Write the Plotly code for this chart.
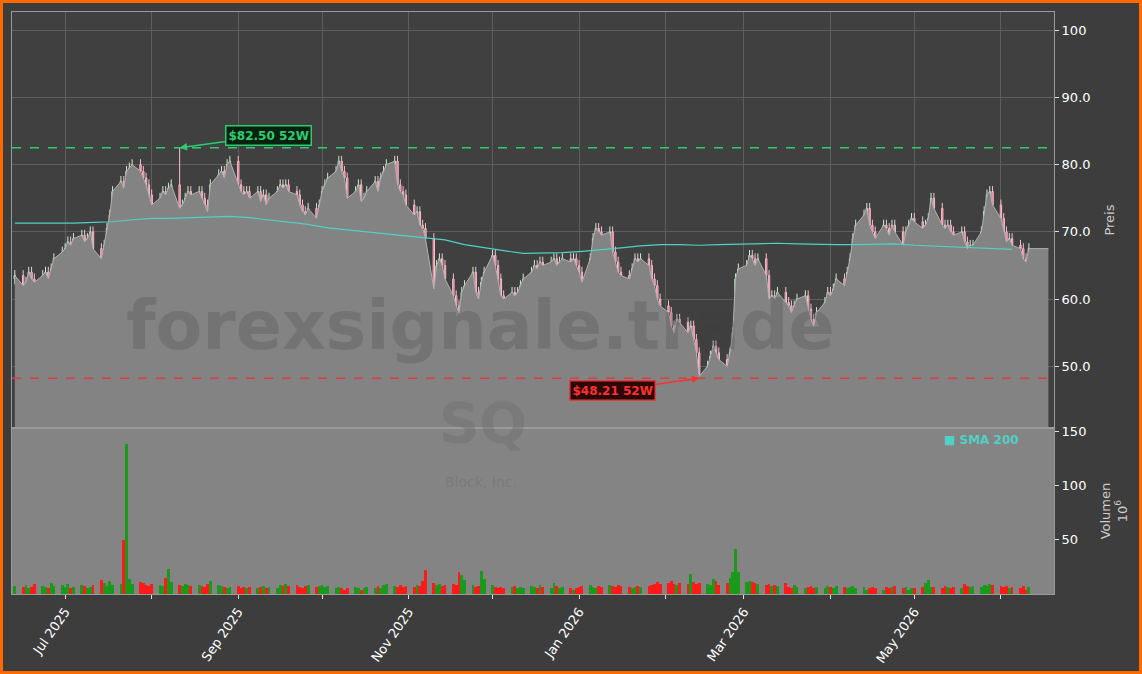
"""SQ Kursverlauf mit Volumen und SMA 200 als Plotly-Chart."""
import pandas as pd
import plotly.graph_objects as go
from plotly.subplots import make_subplots

# Schlusskurse pro Handelstag (ab 12.06.2025), wochenweise gelesen
closes = [
    63.5, 62, 62.5, 64, 63,   62.5, 63.5, 64, 63, 64.5,   66, 67, 67.5, 68.5, 68,
    69, 69.5, 68.5, 69, 70,   67.5, 66, 68, 70.5, 72.5,   76, 77.5, 76.5, 79, 79.5,
    80, 79, 78, 77, 75.5,     74, 75, 76, 75.5, 76.5,     77, 73.5, 74, 75, 76,
    75.5, 76, 75, 74, 73,     77, 78.5, 79, 78, 80,       80.5, 77, 76, 75.5, 76,
    75, 76, 74.5, 75.5, 74,   75, 76, 77, 76.5, 77,       76, 75.5, 74, 73, 72.5,
    73.5, 72, 74, 76, 77,     78, 79, 80.5, 79, 78,       75, 76, 77, 74.5, 75,
    76, 77.5, 76, 78, 79,     80, 80.5, 77, 76, 75.5,     74, 72.5, 73, 71, 70.5,
    69, 61.5, 65, 66, 65,     63, 60.5, 59, 58, 61,       62, 64, 61, 60, 62.5,
    64, 66.5, 65, 63, 60.5,   60, 61, 60.5, 61, 62,       63, 64, 65, 64.5, 65.5,
    65, 65.5, 66, 65, 65.5,   66, 65.5, 66, 65, 64,       62.5, 66, 69, 70.5, 70,
    69.5, 70, 67, 65.5, 64,   63.5, 63, 64.5, 66, 65.5,   66, 65, 63, 62, 60,
    59, 58, 56, 55, 57,       56.5, 55, 56, 54, 52,       48.5, 50, 51.5, 53, 52,
    51, 50, 52, 55, 63,       64.5, 65, 66.5, 66, 65,     66, 63.5, 60, 60.5, 60,
    61, 59.5, 59, 58, 59,     60, 60.5, 58.5, 57, 56,     58, 59.5, 61, 60.5, 61.5,
    63, 62, 64, 66, 69,       71, 72.5, 73.5, 71, 70,     69, 71, 70.5, 69.5, 71,
    70, 68, 70, 71, 72,       71.5, 70.5, 71, 72, 75,     73.5, 71, 70.5, 71, 70,
    69.5, 70, 68.5, 67.5, 68, 68, 70, 73, 75.5, 76,       74, 72, 70, 68.5, 69,
    68, 67.5, 66, 65.5, 67.5,
]

# Volumen in Mio. Stueck
volumes = [
    7, 6, 8, 5, 6,   9, 7, 6, 5, 10,   7, 8, 6, 9, 5,   6, 8, 7, 5, 6,
    8, 13, 10, 7, 12,   8, 9, 50, 138, 14,   9, 11, 10, 8, 7,   9, 8, 7, 15, 23,
    11, 8, 7, 9, 8,   7, 8, 7, 6, 9,   12, 8, 7, 6, 5,   6, 7, 5, 6, 5,
    6, 5, 6, 7, 5,   6, 5, 8, 7, 9,   7, 8, 6, 5, 7,   8, 6, 7, 8, 6,
    7, 5, 6, 5, 4,   5, 6, 5, 4, 5,   6, 5, 7, 5, 8,   9, 7, 6, 8, 6,
    7, 6, 8, 7, 12,   22, 10, 8, 9, 7,   8, 9, 8, 20, 17,   13, 8, 6, 7, 21,
    14, 8, 6, 5, 6,   5, 6, 7, 5, 6,   5, 7, 6, 5, 8,   6, 5, 10, 7, 5,
    6, 5, 4, 5, 6,   7, 8, 6, 5, 7,   6, 8, 7, 6, 8,   7, 6, 5, 6, 7,
    6, 7, 8, 9, 11,   9, 10, 12, 9, 8,   10, 9, 18, 11, 9,   10, 9, 8, 14, 12,
    8, 10, 15, 20, 41,   20, 11, 12, 11, 10,   9, 8, 9, 7, 8,   7, 10, 6, 5, 8,
    6, 5, 6, 7, 5,   6, 5, 7, 6, 5,   7, 6, 5, 6, 7,   5, 6, 4, 5, 6,
    5, 4, 6, 5, 6,   7, 5, 6, 4, 5,   5, 6, 10, 13, 6,   6, 5, 7, 6, 5,
    6, 5, 9, 7, 6,   7, 6, 8, 7, 9,   8, 7, 6, 7, 5,   6, 5, 7, 4, 6,
]

# SMA 200, ein Wert pro Woche
sma_weekly = [71.3, 71.3, 71.2, 71.3, 71.4, 71.5, 71.8, 72, 72, 72.1, 72.2, 72.3, 72.1,
              71.8, 71.5, 71.1, 70.6, 70.3, 70, 69.7, 69.5, 69.2, 68.8, 68.1, 67.6, 67.2,
              66.8, 66.8, 66.9, 67.1, 67.3, 67.6, 67.9, 68.1, 68.1, 68, 68.1, 68.2, 68.3,
              68.3, 68.2, 68.1, 68.1, 68.1, 68.2, 68.2, 68, 67.9, 67.8, 67.6, 67.6, 67.4]

high_52w = 82.50
low_52w = 48.21
high_idx = 41
low_idx = 175

dates = pd.bdate_range('2025-06-13', periods=len(closes))
opens = [closes[0] - 0.5] + closes[:-1]
highs = [max(o, c) + 0.8 for o, c in zip(opens, closes)]
lows = [min(o, c) - 0.8 for o, c in zip(opens, closes)]
highs[high_idx] = high_52w
lows[low_idx] = low_52w
vol_colors = ['#1a9a1a' if c >= o else '#ff1a1a' for o, c in zip(opens, closes)]
sma_dates = dates[::5]

fig = make_subplots(rows=2, cols=1, shared_xaxes=True, vertical_spacing=0,
                    row_heights=[0.715, 0.285])

# Flaeche unter dem Schlusskurs
area_x = list(dates) + [dates[-1] + pd.Timedelta(days=7)]
area_y = closes + [closes[-1]]
fig.add_trace(go.Scatter(x=area_x, y=area_y, mode='lines', fill='tozeroy',
                         fillcolor='#838383', line=dict(color='#b0b0b0', width=1),
                         hoverinfo='skip'), row=1, col=1)

fig.add_trace(go.Scatter(x=sma_dates, y=sma_weekly, mode='lines',
                         line=dict(color='#4fd1c5', width=1.2), name='SMA 200'),
              row=1, col=1)

fig.add_trace(go.Candlestick(
    x=dates, open=opens, high=highs, low=lows, close=closes,
    increasing=dict(line=dict(color='#c8f0c8', width=1), fillcolor='#2ea043'),
    decreasing=dict(line=dict(color='#f4c0cc', width=1), fillcolor='#ff4f7a'),
    whiskerwidth=0, name='SQ'), row=1, col=1)

fig.add_trace(go.Bar(x=dates, y=volumes, marker_color=vol_colors, marker_line_width=0,
                     name='Volumen'), row=2, col=1)

fig.add_hline(y=high_52w, line=dict(color='#2ecc71', width=1.5, dash='dash'), row=1, col=1)
fig.add_hline(y=low_52w, line=dict(color='#e03c3c', width=1.5, dash='dash'), row=1, col=1)

fig.add_annotation(x=dates[high_idx], y=high_52w, xref='x', yref='y',
                   text='<b>$82.50 52W</b>', font=dict(color='#2ecc71', size=12),
                   bgcolor='#06210f', bordercolor='#2ecc71', borderwidth=1.5, borderpad=2,
                   showarrow=True, arrowhead=2, arrowcolor='#2ecc71', arrowwidth=1.5,
                   ax=89, ay=-12)
fig.add_annotation(x=dates[low_idx], y=low_52w, xref='x', yref='y',
                   text='<b>$48.21 52W</b>', font=dict(color='#ff3030', size=12),
                   bgcolor='#2a0808', bordercolor='#e03c3c', borderwidth=1.5, borderpad=2,
                   showarrow=True, arrowhead=2, arrowcolor='#ff3030', arrowwidth=1.5,
                   ax=-87, ay=12)

# Wasserzeichen
fig.add_annotation(x=0.45, y=0.462, xref='paper', yref='paper', showarrow=False,
                   text='<b>forexsignale.trade</b>', font=dict(size=68, color='rgba(60,60,60,0.22)'))
fig.add_annotation(x=0.452, y=0.235, xref='paper', yref='paper', showarrow=False,
                   text='<b>SQ</b>', font=dict(size=56, color='rgba(110,110,110,0.45)'))
fig.add_annotation(x=0.45, y=0.175, xref='paper', yref='paper', showarrow=False,
                   text='Block, Inc.', font=dict(size=14, color='rgba(110,110,110,0.45)'))
fig.add_annotation(x=0.93, y=0.28, xref='paper', yref='paper', showarrow=False,
                   xanchor='center', yanchor='top',
                   text='<b>■ SMA 200</b>', font=dict(size=12, color='#4fd1c5'))

# Rahmen
fig.add_shape(type='rect', xref='paper', yref='paper',
              x0=-10.5 / 1042, x1=1 + 86.5 / 1042, y0=-78.5 / 582, y1=1 + 10.5 / 582,
              line=dict(color='#ff6a00', width=3))

months = pd.date_range('2025-07-01', '2026-06-01', freq='MS')
month_text = [m.strftime('%b %Y') if i % 2 == 0 else '' for i, m in enumerate(months)]

fig.update_layout(
    width=1142, height=674, showlegend=False,
    paper_bgcolor='#3d3d3d', plot_bgcolor='#404040',
    margin=dict(l=12, r=88, t=12, b=80, autoexpand=False),
    font=dict(family='DejaVu Sans', color='#ffffff', size=13),
    bargap=0,
)
fig.update_xaxes(range=['2025-06-12', '2026-06-20'], rangeslider_visible=False,
                 tickvals=months, ticktext=month_text, tickangle=-55, automargin=False,
                 showgrid=True, gridcolor='#5e5e5e', showline=True, linecolor='#9a9a9a',
                 mirror=True, ticks='outside', tickcolor='#dddddd', ticklen=4)
fig.update_xaxes(showticklabels=False, ticks='', row=1, col=1)
fig.update_xaxes(showgrid=False, row=2, col=1)
fig.update_yaxes(side='right', showline=True, linecolor='#9a9a9a', mirror=True,
                 ticks='outside', tickcolor='#dddddd', ticklen=4, zeroline=False,
                 automargin=False)
fig.update_yaxes(range=[40.8, 102.7], tickvals=[50, 60, 70, 80, 90, 100],
                 ticktext=['50.0', '60.0', '70.0', '80.0', '90.0', '100'],
                 gridcolor='#5e5e5e', title=dict(text='Preis', font=dict(color='#cccccc', size=13)),
                 row=1, col=1)
fig.update_yaxes(range=[0, 152.7], tickvals=[50, 100, 150], showgrid=False,
                 title=dict(text='Volumen<br>10<sup>6</sup>', font=dict(color='#cccccc', size=13)),
                 row=2, col=1)
fig.layout.yaxis2.update(domain=[0, 0.285])
fig.layout.yaxis.update(domain=[0.285, 1])

# Hintergrund des Volumen-Panels
fig.add_shape(type='rect', xref='x2 domain', yref='y2 domain', x0=0, x1=1, y0=0, y1=1,
              fillcolor='#848484', line_width=0, layer='below')

fig.write_html('out.html', config={'displayModeBar': False},
               post_script="document.body.style.margin='0';")
